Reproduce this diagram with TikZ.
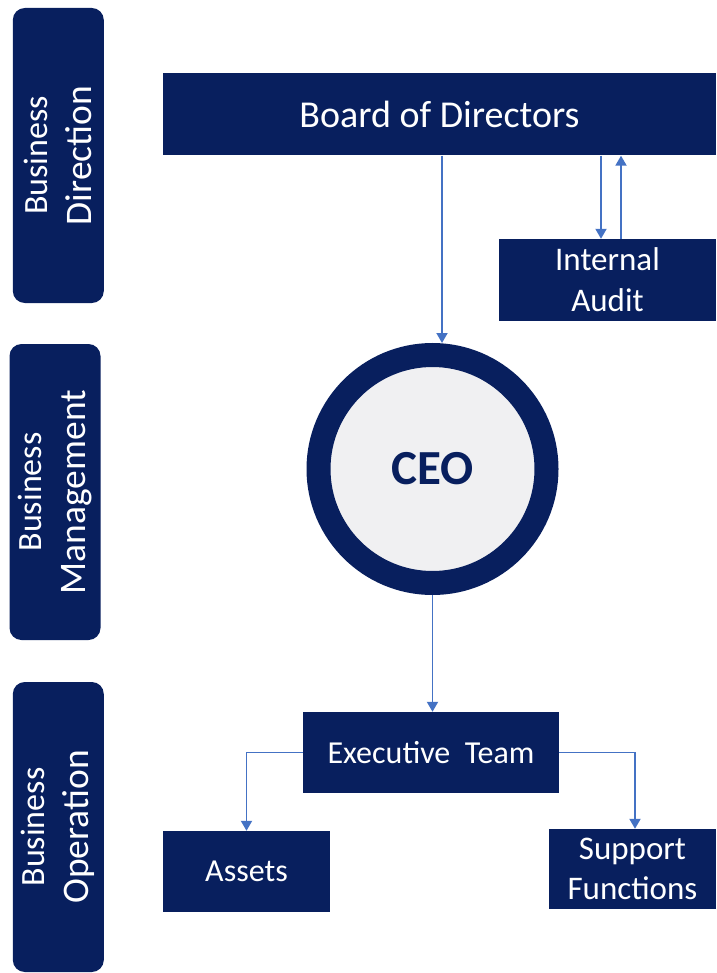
\documentclass[tikz,border=0pt]{standalone}
\usepackage{fontspec}
\setmainfont{Carlito}
\usetikzlibrary{arrows.meta}
\definecolor{navy}{RGB}{8,31,94}
\definecolor{ringfill}{RGB}{240,240,242}
\definecolor{arrowblue}{RGB}{68,114,196}
\newcommand{\firstln}{\fontsize{34}{44}\selectfont}
\newcommand{\secondln}{\fontsize{37.5}{44}\selectfont}
\begin{document}
\begin{tikzpicture}[x=1pt,y=-1pt,
  box/.style={fill=navy,draw=none,text=white,align=center,inner sep=0pt,anchor=center},
  sidebar/.style={fill=navy,draw=none,text=white,align=center,inner sep=0pt,rounded corners=12pt,rotate=90,minimum height=91pt,font=\fontsize{34}{44}\selectfont},
  arr/.style={draw=arrowblue,line width=1.9pt,-{Triangle[length=10pt,width=11pt]}}]
\useasboundingbox (0,0) rectangle (716,973);
% side bars
\node[sidebar,minimum width=295pt] (dir) at (58.3,155.5) {{\firstln Business}\\{\secondln Direction}};
\node[sidebar,minimum width=296pt] (mgmt) at (55,492) {{\firstln Business}\\{\secondln Management}};
\node[sidebar,minimum width=290pt] (oper) at (58.3,827) {{\firstln Business}\\{\secondln Operation}};
% boxes
\node[box,minimum width=553pt,minimum height=82pt,font=\fontsize{38}{46}\selectfont] (board) at (439.5,114.5) {Board of Directors};
\node[box,minimum width=217pt,minimum height=82pt,font=\fontsize{33}{41}\selectfont] (audit) at (607.5,280) {Internal\\Audit};
\node[circle,fill=ringfill,draw=navy,line width=24pt,minimum size=228pt,inner sep=0pt,text=navy,font=\fontsize{49}{58}\selectfont\bfseries] (ceo) at (432.5,469) {CEO};
\node[box,minimum width=256pt,minimum height=81pt,font=\fontsize{32}{40}\selectfont] (exec) at (431,752.5) {Executive\ \ Team};
\node[box,minimum width=167pt,minimum height=81pt,font=\fontsize{32}{40}\selectfont] (assets) at (246.5,871.5) {Assets};
\node[box,minimum width=167pt,minimum height=80pt,font=\fontsize{33}{40}\selectfont] (support) at (632.5,869) {Support\\Functions};
% connector guides
\coordinate (bx) at (442,0);
\coordinate (adown) at (601,0);
\coordinate (aup) at (621,0);
\coordinate (sx) at (635,0);
% connectors
\draw[arr] (board.south -| bx) -- (ceo.north -| bx);
\draw[arr] (board.south -| adown) -- (audit.north -| adown);
\draw[arr] (audit.north -| aup) -- (board.south -| aup);
\draw[arr] (ceo.south) -- (ceo.south |- exec.north);
\draw[arr] (exec.west) -| (assets.north);
\draw[arr] (exec.east) -| (support.north -| sx);
\end{tikzpicture}
\end{document}
